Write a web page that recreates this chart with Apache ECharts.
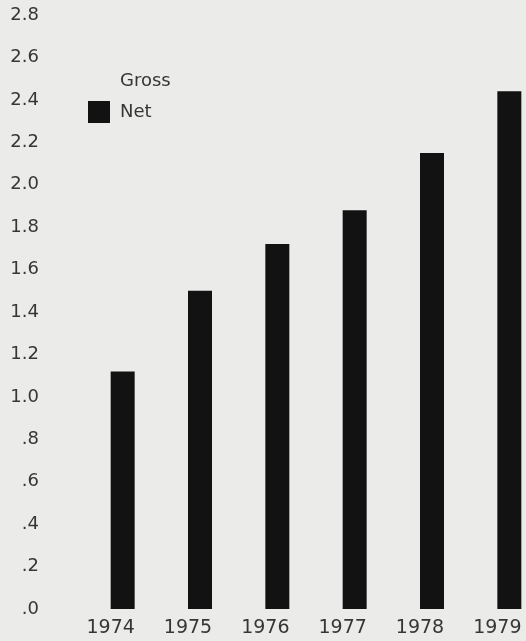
<!DOCTYPE html>
<html>
<head>
<meta charset="UTF-8">
<title>Gross and Net</title>
<script src="https://cdn.jsdelivr.net/npm/echarts@6/dist/echarts.min.js"></script>
<style>
  html, body { margin: 0; padding: 0; background: #ebebe9; }
  #chart { width: 526px; height: 641px; }
</style>
</head>
<body>
<div id="chart"></div>
<script>
// data
const years = ['1974', '1975', '1976', '1977', '1978', '1979'];
const netValues = [1.12, 1.50, 1.72, 1.88, 2.15, 2.44];
// gross bars are not visible in the scan, only the legend entry is left
const grossValues = [null, null, null, null, null, null];
const yTickLabels = ['.0', '.2', '.4', '.6', '.8', '1.0', '1.2', '1.4', '1.6', '1.8', '2.0', '2.2', '2.4', '2.6', '2.8'];

const chart = echarts.init(document.getElementById('chart'));
const font = 'DejaVu Sans';
const bg = '#ebebe9';
const ink = '#363636';

chart.setOption({
    backgroundColor: bg,
    animation: false,
    textStyle: { fontFamily: font },
    legend: {
        orient: 'vertical',
        left: 83,
        top: 65,
        itemWidth: 22,
        itemHeight: 22,
        itemGap: 9,
        icon: 'rect',
        textStyle: { fontFamily: font, fontSize: 18, color: ink, padding: [0, 0, 0, 5] },
        data: ['Gross', 'Net']
    },
    grid: { left: 72, top: 15, width: 464, height: 594, outerBoundsMode: 'none' },
    xAxis: {
        type: 'category',
        data: years,
        axisLine: { show: false },
        axisTick: { show: false },
        axisLabel: { fontFamily: font, fontSize: 19, color: ink, margin: 10 }
    },
    yAxis: {
        type: 'value',
        min: 0,
        max: 2.8,
        interval: 0.2,
        splitLine: { show: false },
        axisLine: { show: false },
        axisTick: { show: false },
        axisLabel: {
            fontFamily: font,
            fontSize: 18,
            color: ink,
            margin: 33,
            formatter: v => yTickLabels[Math.round(v / 0.2)]
        }
    },
    series: [
        {
            name: 'Gross',
            type: 'bar',
            barWidth: 24,
            barGap: '0%',
            itemStyle: { color: bg },
            data: grossValues
        },
        {
            name: 'Net',
            type: 'bar',
            barWidth: 24,
            itemStyle: { color: '#121212' },
            data: netValues
        }
    ]
});
</script>
</body>
</html>
